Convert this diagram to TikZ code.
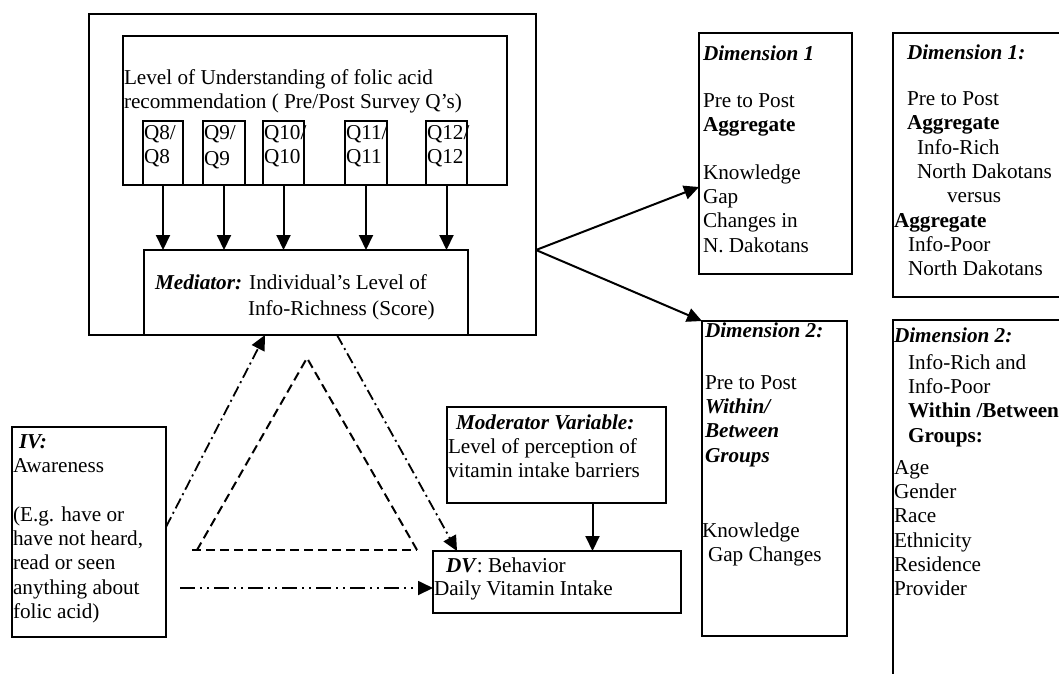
\documentclass[tikz,border=0pt]{standalone}
\usepackage{fontspec}
\setmainfont{Liberation Serif}
\usetikzlibrary{arrows.meta}
\begin{document}
\begin{tikzpicture}[x=1pt,y=-1pt,
  box/.style={draw, line width=2.3pt, inner sep=0pt, outer sep=0pt, anchor=north west},
  txt/.style={inner sep=0pt, outer sep=0pt, anchor=north west, align=left,
    font=\fontsize{21.2}{24.3}\selectfont},
  tip/.style={-{Triangle[length=15pt,width=14pt]}},
  arr/.style={line width=2pt, tip},
  dashdot/.style={line width=1.8pt, dash pattern=on 11pt off 4pt on 2pt off 4pt, tip},
  dashdotdot/.style={line width=1.8pt, dash pattern=on 15pt off 5pt on 2pt off 5pt on 2pt off 5pt, tip},
  tri/.style={line width=2pt, dash pattern=on 9pt off 5pt}
]
\useasboundingbox (0,0) rectangle (1059,673);
\clip (0,0) rectangle (1059,673);
\fill[white] (0,0) rectangle (1059,673);

% boxes
\node[box, minimum width=447pt, minimum height=321pt] (outer) at (89,14) {};
\node[box, minimum width=384pt, minimum height=149pt] (under) at (123,36) {};
\node[box, minimum width=40pt, minimum height=64pt] (q8) at (143,121) {};
\node[box, minimum width=42pt, minimum height=64pt] (q9) at (203,121) {};
\node[box, minimum width=41pt, minimum height=64pt] (q10) at (263,121) {};
\node[box, minimum width=42pt, minimum height=64pt] (q11) at (345,121) {};
\node[box, minimum width=41pt, minimum height=64pt] (q12) at (426,121) {};
\node[box, minimum width=324pt, minimum height=85pt] (med) at (144,250) {};
\node[box, minimum width=153pt, minimum height=241pt] (d1a) at (699,33) {};
\node[box, minimum width=190pt, minimum height=264pt] (d1b) at (893,33) {};
\node[box, minimum width=145pt, minimum height=315pt] (d2a) at (702,321) {};
\node[box, minimum width=190pt, minimum height=380pt] (d2b) at (893,320) {};
\node[box, minimum width=154pt, minimum height=210pt] (iv) at (12,427) {};
\node[box, minimum width=219pt, minimum height=96pt] (mod) at (447,407) {};
\node[box, minimum width=248pt, minimum height=62pt] (dv) at (433,551) {};

% texts
\node[txt] (tunder) at (124,69.5) {Level of Understanding of folic acid\\recommendation ( Pre/Post Survey Q’s)};
\node[txt] (tq8) at (144,125.5) {Q8/\\Q8};
\node[txt] (tq9) at (204,125.5) {Q9/\\[2pt]Q9};
\node[txt] (tq10) at (264,125.5) {Q10/\\Q10};
\node[txt] (tq11) at (346,125.5) {Q11/\\Q11};
\node[txt] (tq12) at (427,125.5) {Q12/\\Q12};
\node[txt] (tmed) at (155,274.5) {\textbf{\textit{Mediator:}} Individual’s Level of\\[1.5pt]\hspace*{93pt}Info-Richness (Score)};
\node[txt] (td1a) at (703,45.5) {\textbf{\textit{Dimension 1}}\\[23pt]Pre to Post\\\textbf{Aggregate}\\[23pt]Knowledge\\Gap\\Changes in\\N. Dakotans};
\node[txt] (td1b) at (894,44.5) {\hspace*{13pt}\textbf{\textit{Dimension 1:}}\\[22pt]\hspace*{13pt}Pre to Post\\\hspace*{13pt}\textbf{Aggregate}\\\hspace*{23pt}Info-Rich\\\hspace*{23pt}North Dakotans\\\hspace*{53pt}versus\\\textbf{Aggregate}\\\hspace*{14pt}Info-Poor\\\hspace*{14pt}North Dakotans};
\node[txt] (td2a) at (702,322.5) {\hspace*{3pt}\textbf{\textit{Dimension 2:}}\\[27.7pt]\hspace*{3pt}Pre to Post\\\hspace*{3pt}\textbf{\textit{Within/}}\\\hspace*{3pt}\textbf{\textit{Between}}\\\hspace*{3pt}\textbf{\textit{Groups}}\\[51pt]Knowledge\\\hspace*{6pt}Gap Changes};
\node[txt] (td2b) at (894,327.5) {\textbf{\textit{Dimension 2:}}\\[2.7pt]\hspace*{14pt}Info-Rich and\\\hspace*{14pt}Info-Poor\\\hspace*{14pt}\textbf{Within /Between}\\\hspace*{14pt}\textbf{Groups:}\\[7.7pt]Age\\Gender\\Race\\Ethnicity\\Residence\\Provider};
\node[txt] (tiv) at (13,434.5) {\hspace*{6pt}\textbf{\textit{IV:}}\\Awareness\\[24.3pt](E.g. have or\\have not heard,\\read or seen\\anything about\\folic acid)};
\node[txt] (tmod) at (448,414.5) {\hspace*{8pt}\textbf{\textit{Moderator Variable:}}\\Level of perception of\\vitamin intake barriers};
\node[txt] (tdv) at (434,557.5) {\hspace*{12pt}\textbf{\textit{DV}}: Behavior\\[-1.3pt]Daily Vitamin Intake};

% Q arrows
\foreach \q in {q8,q9,q10,q11,q12}
  \draw[arr] (\q.south) -- (\q.south |- med.north);

% split to dimensions
\coordinate (split) at ([yshift=-75.5pt]outer.east);
\draw[arr] (split) -- ([yshift=-33.5pt]d1a.west);
\draw[arr] (split) -- (d2a.north west);

% moderator to DV
\draw[arr] ([xshift=36pt]mod.south) -- ([xshift=36pt]mod.south |- dv.north);

% dashed triangle
\coordinate (tA) at (307,358);
\coordinate (tB) at (197,550);
\coordinate (tC) at (417,550);
\draw[tri] (tC) -- (tA) -- (tB);
\draw[tri] (192,550) -- (tC);

% dash-dot arrows
\draw[dashdot] ([yshift=5pt]iv.east) -- ([xshift=-41pt]med.south);
\draw[dashdot] ([xshift=31pt]med.south) -- ([xshift=24pt]dv.north west);
\coordinate (hstart) at (180,588);
\draw[dashdotdot] (hstart) -- (hstart -| dv.west);
\end{tikzpicture}
\end{document}
